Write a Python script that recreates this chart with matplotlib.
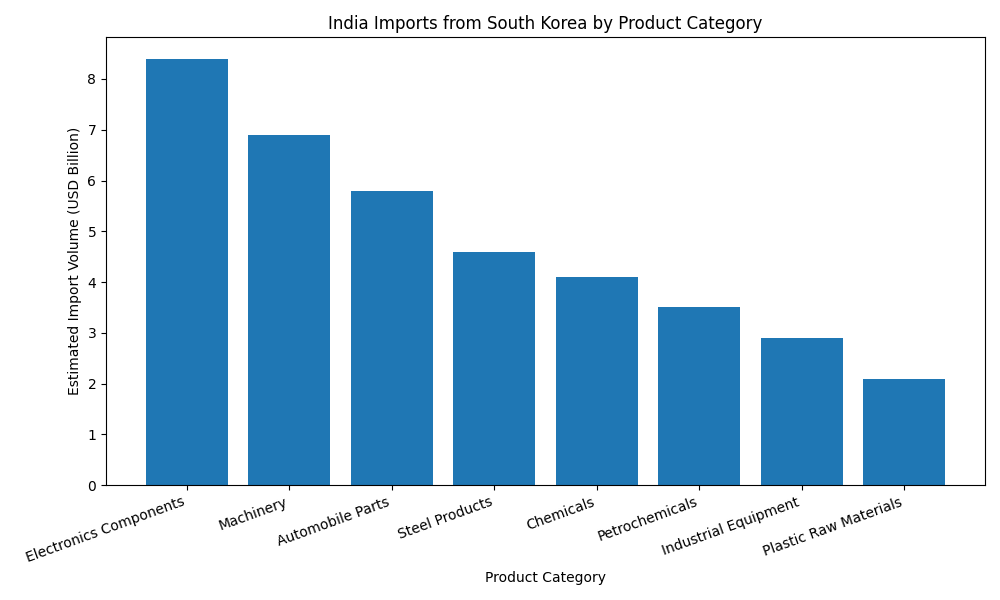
import matplotlib
matplotlib.use("Agg")
import matplotlib.pyplot as plt

categories = ["Electronics Components", "Machinery", "Automobile Parts", "Steel Products",
              "Chemicals", "Petrochemicals", "Industrial Equipment", "Plastic Raw Materials"]
values = [8.4, 6.9, 5.8, 4.6, 4.1, 3.5, 2.9, 2.1]

fig, ax = plt.subplots(figsize=(10, 6), dpi=100)
ax.bar(categories, values, color="#1f77b4")
ax.set_title("India Imports from South Korea by Product Category")
ax.set_xlabel("Product Category")
ax.set_ylabel("Estimated Import Volume (USD Billion)")
plt.xticks(rotation=20, ha="right")
plt.tight_layout()
plt.savefig("out.png")
